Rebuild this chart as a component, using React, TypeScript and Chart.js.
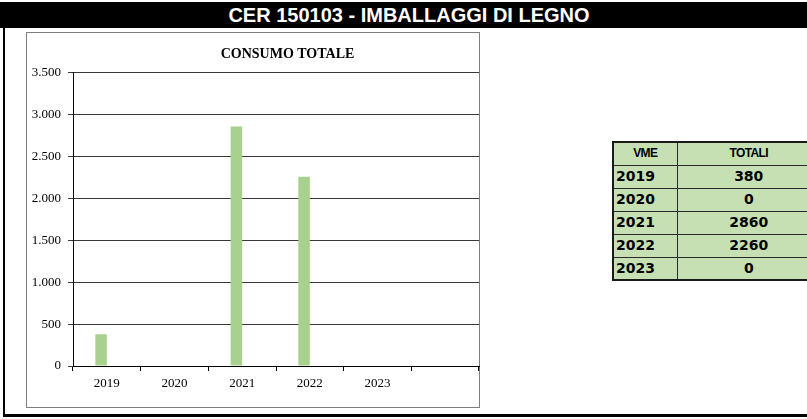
import React, { useEffect, useRef } from "react";
import { Chart, registerables } from "chart.js";

Chart.register(...registerables);

const pageTitle = "CER 150103 - IMBALLAGGI DI LEGNO";
const chartTitle = "CONSUMO TOTALE";
const categories = ["2019", "2020", "2021", "2022", "2023", ""];
const totals = [380, 0, 2860, 2260, 0, null];
const emptySeries = [null, null, null, null, null, null];
const yMin = 0;
const yMax = 3500;
const yStep = 500;

const tableHeader = ["VME", "TOTALI"];
const tableYears = ["2019", "2020", "2021", "2022", "2023"];
const tableTotals = [380, 0, 2860, 2260, 0];

const serif = '"Liberation Serif", "Times New Roman", serif';

function fmt(v: number) {
  return String(v).replace(/\B(?=(\d{3})+(?!\d))/g, ".");
}

function ChartBox() {
  const ref = useRef<HTMLCanvasElement | null>(null);
  useEffect(() => {
    if (!ref.current) return;
    const chart = new Chart(ref.current, {
      type: "bar",
      data: {
        labels: categories,
        datasets: [
          {
            label: "TOTALI",
            data: totals as any,
            backgroundColor: "#a9d18e",
            borderWidth: 0,
            barPercentage: 1,
            categoryPercentage: 0.34,
          },
          {
            label: "",
            data: emptySeries as any,
            backgroundColor: "#a9d18e",
            borderWidth: 0,
            barPercentage: 1,
            categoryPercentage: 0.34,
          },
        ],
      },
      options: {
        responsive: false,
        animation: false,
        layout: { padding: 0 },
        plugins: {
          legend: { display: false },
          tooltip: { enabled: false },
          title: {
            display: true,
            text: chartTitle,
            color: "#000",
            font: { family: serif, size: 14, weight: "bold", lineHeight: 1.2 },
            padding: { top: 13, bottom: 10 },
          },
        },
        scales: {
          x: {
            grid: {
              offset: true,
              drawOnChartArea: false,
              drawTicks: true,
              tickLength: 5,
              color: "#000",
            },
            border: { color: "#000", width: 1 },
            ticks: {
              color: "#000",
              font: { family: serif, size: 13 },
              padding: 5,
              maxRotation: 0,
              autoSkip: false,
            },
            afterFit: (s: any) => {
              s.height = 41;
            },
          },
          y: {
            min: yMin,
            max: yMax,
            grid: { color: "#3a3a3a", drawTicks: true, tickLength: 5 },
            border: { color: "#000", width: 1 },
            ticks: {
              stepSize: yStep,
              color: "#000",
              font: { family: serif, size: 13 },
              padding: 7,
              callback: (v: any) => fmt(Number(v)),
            },
            afterFit: (s: any) => {
              s.width = 46;
            },
          },
          y2: {
            type: "linear",
            display: true,
            position: "right",
            grid: { display: false },
            border: { display: false },
            ticks: { display: false },
            afterFit: (s: any) => {
              s.width = 69;
            },
          },
        },
      } as any,
    });
    return () => chart.destroy();
  }, []);
  return (
    <canvas
      ref={ref}
      width={521}
      height={374}
      style={{ position: "absolute", left: 27, top: 33, width: 521, height: 374 }}
    />
  );
}

export default function App() {
  const cellBase: React.CSSProperties = {
    border: "1px solid #2a2a2a",
    height: 23,
    padding: 0,
    boxSizing: "border-box",
    lineHeight: "21px",
  };
  return (
    <div
      style={{
        position: "fixed",
        left: 0,
        top: 0,
        width: 807,
        height: 419,
        overflow: "hidden",
        background: "#fff",
      }}
    >
      <div
        style={{
          position: "absolute",
          left: 0,
          top: 2,
          width: 807,
          height: 26,
          background: "#000",
          color: "#fff",
          boxSizing: "border-box",
          paddingLeft: 11,
          textAlign: "center",
          fontFamily: '"Liberation Sans", Arial, sans-serif',
          fontWeight: "bold",
          fontSize: 20,
          lineHeight: "26px",
        }}
      >
        {pageTitle}
      </div>
      <div style={{ position: "absolute", left: 3, top: 28, width: 2, height: 389, background: "#000" }} />
      <div style={{ position: "absolute", left: 3, top: 414, width: 804, height: 3, background: "#000" }} />
      <div
        style={{
          position: "absolute",
          left: 26,
          top: 32,
          width: 454,
          height: 376,
          border: "1px solid #7f7f7f",
          boxSizing: "border-box",
        }}
      />
      <ChartBox />
      <table
        style={{
          position: "absolute",
          left: 612,
          top: 141,
          borderCollapse: "collapse",
          border: "2px solid #1a1a1a",
          background: "#c6e0b4",
          tableLayout: "fixed",
          width: 208,
        }}
      >
        <colgroup>
          <col style={{ width: 64 }} />
          <col style={{ width: 144 }} />
        </colgroup>
        <tbody>
          <tr style={{ height: 23 }}>
            {tableHeader.map((h) => (
              <td
                key={h}
                style={{
                  ...cellBase,
                  textAlign: "center",
                  fontFamily: '"Liberation Sans", Arial, sans-serif',
                  fontWeight: "bold",
                  fontSize: 12,
                  letterSpacing: -0.6,
                  color: "#000",
                }}
              >
                {h}
              </td>
            ))}
          </tr>
          {tableYears.map((y, i) => (
            <tr key={y} style={{ height: 23 }}>
              <td
                style={{
                  ...cellBase,
                  textAlign: "left",
                  paddingLeft: 2,
                  fontFamily: '"DejaVu Sans", Verdana, sans-serif',
                  fontWeight: "bold",
                  fontSize: 14,
                  color: "#000",
                }}
              >
                {y}
              </td>
              <td
                style={{
                  ...cellBase,
                  textAlign: "center",
                  fontFamily: '"DejaVu Sans", Verdana, sans-serif',
                  fontWeight: "bold",
                  fontSize: 14,
                  color: "#000",
                }}
              >
                {tableTotals[i]}
              </td>
            </tr>
          ))}
        </tbody>
      </table>
    </div>
  );
}
